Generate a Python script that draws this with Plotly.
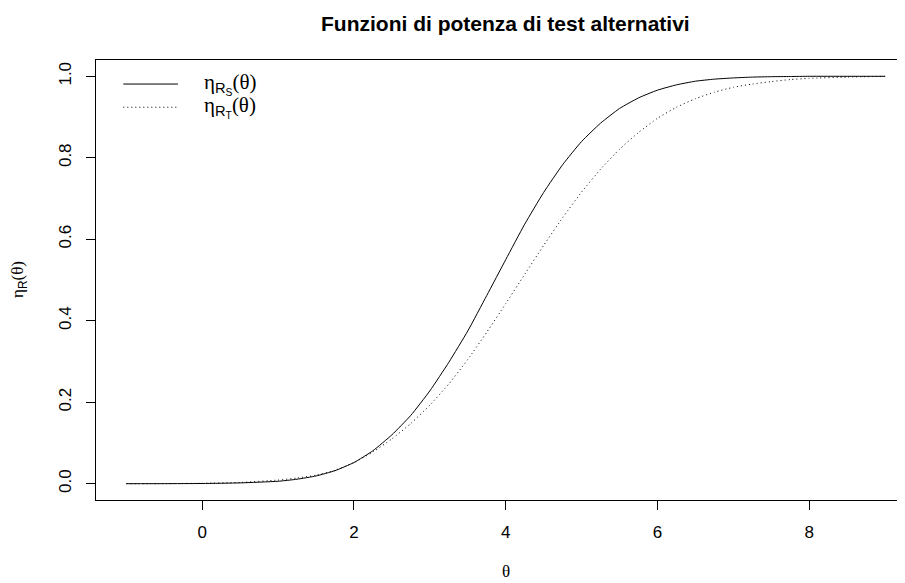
import plotly.graph_objects as go

# theta grid and read-off power function values
theta = [-1.0, -0.5, 0.0, 0.5, 1.0, 1.25, 1.5, 1.75, 2.0, 2.25, 2.5, 2.75, 3.0, 3.25,
         3.5, 3.75, 4.0, 4.25, 4.5, 4.75, 5.0, 5.25, 5.5, 5.75, 6.0, 6.25, 6.5, 6.75,
         7.0, 7.25, 7.5, 7.75, 8.0, 8.5, 9.0]
eta_RS = [0.0, 0.0001, 0.0005, 0.002, 0.006, 0.011, 0.019, 0.032, 0.052, 0.081, 0.12,
          0.168, 0.228, 0.298, 0.375, 0.462, 0.55, 0.637, 0.715, 0.783, 0.84, 0.885,
          0.921, 0.947, 0.966, 0.979, 0.988, 0.993, 0.996, 0.998, 0.999, 0.9995,
          1.0, 1.0, 1.0]
eta_RT = [0.0, 0.0003, 0.001, 0.003, 0.009, 0.014, 0.021, 0.033, 0.052, 0.078, 0.11,
          0.148, 0.193, 0.245, 0.305, 0.372, 0.442, 0.514, 0.585, 0.653, 0.716, 0.772,
          0.821, 0.862, 0.897, 0.924, 0.945, 0.961, 0.973, 0.981, 0.987, 0.992,
          0.995, 0.998, 1.0]

x_ticks = [0, 2, 4, 6, 8]
y_ticks = [0.0, 0.2, 0.4, 0.6, 0.8, 1.0]
y_tick_text = ["0.0", "0.2", "0.4", "0.6", "0.8", "1.0"]

title_text = "Funzioni di potenza di test alternativi"
SANS = "Liberation Sans, Arial, Helvetica, sans-serif"
SERIF = "Liberation Serif, Times New Roman, serif"

fig = go.Figure()
fig.add_trace(go.Scatter(x=theta, y=eta_RS, mode="lines",
                         line=dict(color="black", width=1, shape="spline", smoothing=0.5),
                         showlegend=False, hoverinfo="skip"))
fig.add_trace(go.Scatter(x=theta, y=eta_RT, mode="lines",
                         line=dict(color="black", width=1, dash="1px,3px", shape="spline", smoothing=0.5),
                         showlegend=False, hoverinfo="skip"))

axis_common = dict(showgrid=False, zeroline=False, showline=True, linecolor="black",
                   linewidth=1, ticks="outside", ticklen=9, tickcolor="black", tickwidth=1,
                   tickfont=dict(family=SANS, size=17, color="black"))

fig.update_xaxes(range=[-1.4, 9.262], tickvals=x_ticks, ticktext=[str(v) for v in x_ticks],
                 mirror=True, ticklabelstandoff=8, **axis_common)
fig.update_yaxes(range=[-0.04, 1.04], tickvals=y_ticks, ticktext=y_tick_text,
                 tickangle=-90, ticklabelstandoff=8, **axis_common)

# legend drawn in R style (no box)
fig.add_shape(type="line", xref="x", yref="y", x0=-1.04, x1=-0.32, y0=0.981, y1=0.981,
              line=dict(color="black", width=1))
fig.add_shape(type="line", xref="x", yref="y", x0=-1.04, x1=-0.32, y0=0.924, y1=0.924,
              line=dict(color="black", width=1, dash="1px,3px"))
sub = lambda s: ("η<sub><span style='font-family:Liberation Sans'>R<sub>%s</sub></span></sub>(θ)" % s)
fig.add_annotation(x=0.0, y=0.981, xref="x", yref="y", xanchor="left", yanchor="middle",
                   text=sub("S"), showarrow=False, font=dict(family=SERIF, size=21, color="black"))
fig.add_annotation(x=0.0, y=0.924, xref="x", yref="y", xanchor="left", yanchor="middle",
                   text=sub("T"), showarrow=False, font=dict(family=SERIF, size=21, color="black"))

# title and axis titles (centred on R's full plot box)
fig.add_annotation(x=4.0, xref="x", y=1, yref="paper", yshift=37, yanchor="middle",
                   text="<b>%s</b>" % title_text, showarrow=False,
                   font=dict(family=SANS, size=21, color="black"))
fig.add_annotation(x=4.0, xref="x", y=0, yref="paper", yshift=-71, yanchor="middle",
                   text="θ", showarrow=False, font=dict(family=SERIF, size=17, color="black"))
fig.add_annotation(x=0, xref="paper", xshift=-77, y=0.5, yref="paper", xanchor="center",
                   textangle=-90, text="η<sub><span style='font-family:Liberation Sans'>R</span></sub>(θ)",
                   showarrow=False, font=dict(family=SERIF, size=17, color="black"))

# page body has an 8px margin: figure origin sits at (8, 8) in the window
fig.update_layout(width=897, height=575, margin=dict(l=88, r=0, t=52, b=83),
                  plot_bgcolor="white", paper_bgcolor="white")

fig.write_html("out.html")
